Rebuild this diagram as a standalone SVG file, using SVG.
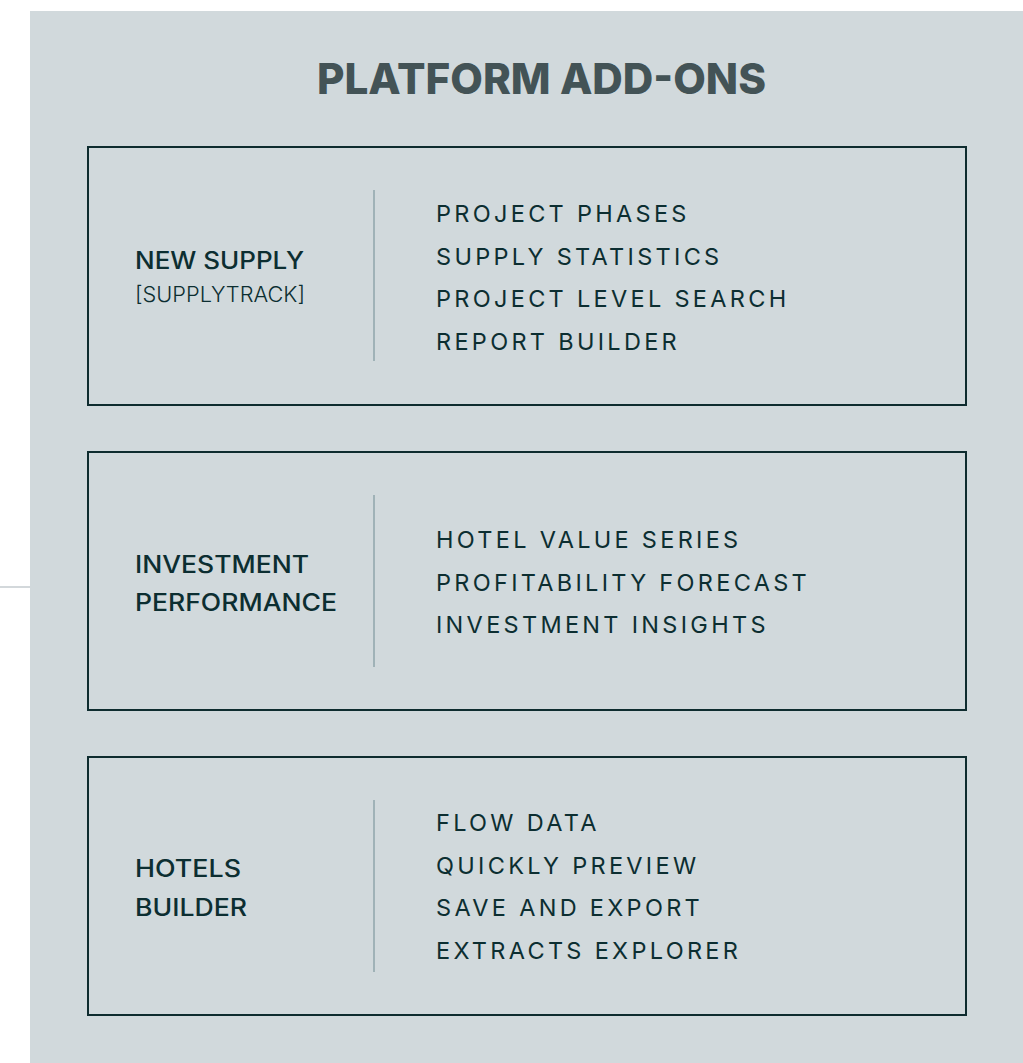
<svg xmlns="http://www.w3.org/2000/svg" width="1023" height="1063" viewBox="0 0 1023 1063">
<style>
.panel{fill:#d1d9dc}
.box{fill:none;stroke:#0e2c2f;stroke-width:2}
.sep{stroke:#7f989e;stroke-width:1.2}
.title{font-family:Inter,"Liberation Sans",sans-serif;font-weight:800;font-size:43px;fill:#435356}
.lbl{font-family:Inter,"Liberation Sans",sans-serif;font-weight:500;font-size:24px;fill:#0c2e31}
.sub{font-family:Inter,"Liberation Sans",sans-serif;font-weight:300;font-size:21px;fill:#0c2e31}
.item{font-family:Inter,"Liberation Sans",sans-serif;font-weight:400;font-size:23.5px;letter-spacing:3.3px;fill:#0c2e31}
</style>
<rect width="1023" height="1063" fill="#ffffff"/>
<rect x="0" y="586" width="30" height="2" fill="#d3d8db"/>
<rect class="panel" x="30" y="11" width="993" height="1052"/>
<text class="title" x="317" y="94" textLength="449" lengthAdjust="spacingAndGlyphs">PLATFORM ADD-ONS</text>
<g id="new-supply">
<rect class="box" x="88" y="147" width="878" height="258"/>
<line class="sep" x1="374" y1="190" x2="374" y2="361"/>
<text class="lbl" x="135" y="268.5" textLength="169" lengthAdjust="spacingAndGlyphs">NEW SUPPLY</text>
<text class="sub" x="135" y="301.5" textLength="170" lengthAdjust="spacingAndGlyphs">[SUPPLYTRACK]</text>
<text class="item" x="436" y="222">PROJECT PHASES</text>
<text class="item" x="436" y="264.5">SUPPLY STATISTICS</text>
<text class="item" x="436" y="307">PROJECT LEVEL SEARCH</text>
<text class="item" x="436" y="349.5">REPORT BUILDER</text>
</g>
<g id="investment-performance">
<rect class="box" x="88" y="452" width="878" height="258"/>
<line class="sep" x1="374" y1="495" x2="374" y2="667"/>
<text class="lbl" x="135" y="573" textLength="174" lengthAdjust="spacingAndGlyphs">INVESTMENT</text>
<text class="lbl" x="135" y="610.5" textLength="202" lengthAdjust="spacingAndGlyphs">PERFORMANCE</text>
<text class="item" x="436" y="548">HOTEL VALUE SERIES</text>
<text class="item" x="436" y="590.5">PROFITABILITY FORECAST</text>
<text class="item" x="436" y="633">INVESTMENT INSIGHTS</text>
</g>
<g id="hotels-builder">
<rect class="box" x="88" y="757" width="878" height="258"/>
<line class="sep" x1="374" y1="800" x2="374" y2="972"/>
<text class="lbl" x="135" y="877" textLength="106" lengthAdjust="spacingAndGlyphs">HOTELS</text>
<text class="lbl" x="135" y="915.5" textLength="112" lengthAdjust="spacingAndGlyphs">BUILDER</text>
<text class="item" x="436" y="831">FLOW DATA</text>
<text class="item" x="436" y="873.5">QUICKLY PREVIEW</text>
<text class="item" x="436" y="916">SAVE AND EXPORT</text>
<text class="item" x="436" y="958.5">EXTRACTS EXPLORER</text>
</g>
<g id="connectors"/>
</svg>
